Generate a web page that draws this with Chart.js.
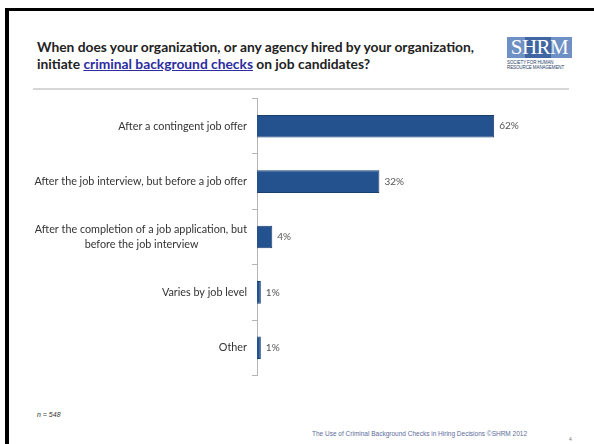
<!DOCTYPE html>
<html>
<head>
<meta charset="utf-8">
<script src="https://cdn.jsdelivr.net/npm/chart.js@4"></script>
<style>
    html, body { margin: 0; padding: 0; background: #fff; }
    body { width: 594px; height: 444px; position: relative; overflow: hidden; font-family: Lato, sans-serif; }
    .frame-top { position: absolute; left: 5px; top: 8px; width: 589px; height: 3px; background: #000; }
    .frame-left { position: absolute; left: 5px; top: 8px; width: 4px; height: 436px; background: #000; }
    .title { position: absolute; left: 37px; top: 38px; font-weight: bold; font-size: 13.8px; line-height: 17px; color: #222; }
    .title a { color: #2c2ca0; text-decoration: underline; }
    .rule { position: absolute; left: 33px; top: 88px; width: 536px; height: 2px; background: #d6d6d6; }
    .logo { position: absolute; left: 507px; top: 37px; width: 65px; height: 21px; background: #6e90c4; overflow: hidden; }
    .logo .dark { position: absolute; left: 18px; top: 0; width: 26px; height: 21px; background: #3f66a3; }
    .logo .word { position: absolute; left: 0; top: 0; width: 65px; text-align: center; font-family: "Liberation Serif", serif; font-size: 21px; line-height: 21px; color: #fff; letter-spacing: -0.5px; }
    .logo-sub { position: absolute; left: 507px; top: 60px; width: 65px; font-family: "Liberation Sans", sans-serif; font-size: 4.5px; line-height: 5px; color: #2a3d66; letter-spacing: -0.1px; }
    .chart-box { position: absolute; left: 0; top: 86px; width: 594px; height: 302px; }
    .note { position: absolute; left: 37px; top: 411px; font-size: 7px; font-style: italic; color: #333; font-family: "Liberation Sans", sans-serif; }
    .footer { position: absolute; left: 312px; top: 430px; font-size: 6.5px; color: #5c6c9c; font-family: "Liberation Sans", sans-serif; }
    .page { position: absolute; left: 569px; top: 436px; font-size: 5px; color: #777; font-family: "Liberation Sans", sans-serif; }
</style>
</head>
<body>
<div class="frame-top"></div>
<div class="frame-left"></div>

<div class="title">When does your organization, or any agency hired by your organization,<br>initiate <a>criminal background checks</a> on job candidates?</div>

<div class="logo"><div class="dark"></div><div class="word">SHRM</div></div>
<div class="logo-sub">SOCIETY FOR HUMAN<br>RESOURCE MANAGEMENT</div>
<div class="rule"></div>

<div class="chart-box"><canvas id="timingChart"></canvas></div>

<div class="note">n = 548</div>
<div class="footer">The Use of Criminal Background Checks in Hiring Decisions ©SHRM 2012</div>
<div class="page">4</div>

<script>
    // Respuestas de la encuesta (porcentaje de organizaciones)
    const categories = [
        'After a contingent job offer',
        'After the job interview, but before a job offer',
        ['After the completion of a job application, but', 'before the job interview'],
        'Varies by job level',
        'Other'
    ];
    const percentages = [62, 32, 4, 1, 1];
    const valueLabels = ['62%', '32%', '4%', '1%', '1%'];

    const tickFont = { family: 'Lato, sans-serif', size: 10.8, lineHeight: 1.4 };

    // Centra las líneas cortas bajo la primera (las etiquetas se alinean a la derecha)
    const measureCtx = document.createElement('canvas').getContext('2d');
    function centerLines(lines) {
        measureCtx.font = `${tickFont.size}px ${tickFont.family}`;
        const widest = measureCtx.measureText(lines[0]).width;
        const space = measureCtx.measureText('\u2009').width;
        return lines.map(line => {
            const gap = (widest - measureCtx.measureText(line).width) / 2;
            return line + '\u2009'.repeat(Math.max(0, Math.round(gap / space)));
        });
    }

    // Escribe el porcentaje al final de cada barra
    const barValueLabels = {
        id: 'barValueLabels',
        afterDatasetsDraw(chart) {
            const ctx = chart.ctx;
            const meta = chart.getDatasetMeta(0);
            ctx.save();
            ctx.font = '10px Lato, sans-serif';
            ctx.fillStyle = '#555';
            ctx.textAlign = 'left';
            ctx.textBaseline = 'middle';
            meta.data.forEach((bar, i) => {
                ctx.fillText(valueLabels[i], bar.x + 5, bar.y);
            });
            ctx.restore();
        }
    };

    const xMax = 80;

    new Chart(document.getElementById('timingChart'), {
        type: 'bar',
        data: {
            labels: categories,
            datasets: [{
                data: percentages,
                backgroundColor: '#24528f',
                borderColor: '#1a3e70',
                borderWidth: 1,
                categoryPercentage: 1,
                barPercentage: 0.41
            }]
        },
        options: {
            indexAxis: 'y',
            responsive: true,
            maintainAspectRatio: false,
            animation: false,
            layout: { padding: { top: 0, bottom: 0, left: 0, right: 31 } },
            plugins: {
                legend: { display: false },
                tooltip: { enabled: false }
            },
            scales: {
                x: {
                    display: false,
                    min: 0,
                    max: xMax
                },
                y: {
                    afterFit(scale) {
                        scale.width = 257;
                    },
                    border: { display: true, color: '#b5b5b5', width: 1 },
                    grid: {
                        offset: true,
                        drawOnChartArea: false,
                        drawTicks: true,
                        tickLength: 5,
                        color: '#b5b5b5'
                    },
                    ticks: {
                        padding: 5,
                        color: '#333',
                        font: tickFont,
                        callback(value) {
                            const label = this.getLabelForValue(value);
                            return Array.isArray(label) ? centerLines(label) : label;
                        }
                    }
                }
            }
        },
        plugins: [barValueLabels]
    });
</script>
</body>
</html>
